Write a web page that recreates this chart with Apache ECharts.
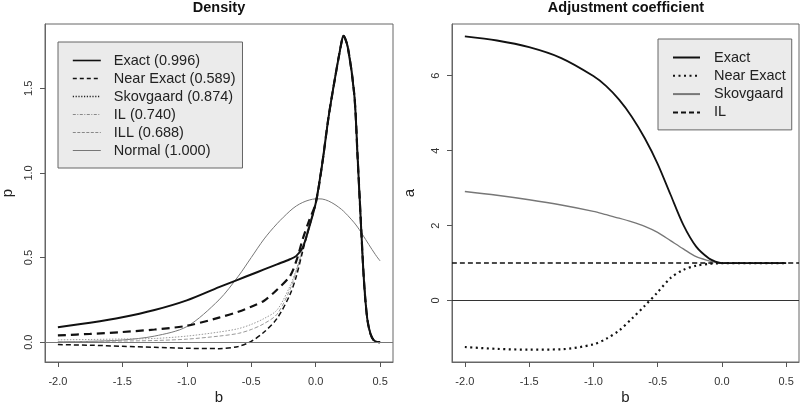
<!DOCTYPE html>
<html><head><meta charset="utf-8">
<script src="https://cdn.jsdelivr.net/npm/echarts@6/dist/echarts.min.js"></script>
<style>html,body{margin:0;padding:0;background:#fff}#c{width:800px;height:403px}</style>
</head><body><div id="c"></div>
<script>
// ---------- Left panel: Density ----------
const bL = [-2.0, -1.75, -1.5, -1.25, -1.0, -0.75, -0.6, -0.5, -0.4, -0.3, -0.2, -0.15, -0.1, -0.05, 0,
            0.05, 0.1, 0.15, 0.2, 0.215, 0.25, 0.3, 0.325, 0.35, 0.375, 0.4, 0.425, 0.45, 0.475, 0.5];
const peakTail = [1.05, 1.33, 1.56, 1.77, 1.81, 1.74, 1.46, 1.10, 0.72, 0.36, 0.14, 0.05, 0.012, 0.002, 0.0];
const pExact     = [0.089, 0.115, 0.147, 0.19, 0.247, 0.325, 0.37, 0.40, 0.43, 0.46, 0.49, 0.51, 0.56, 0.68, 0.82].concat(peakTail);
const pNearExact = [-0.014, -0.018, -0.024, -0.03, -0.036, -0.038, -0.025, 0.005, 0.06, 0.14, 0.28, 0.39, 0.54, 0.68, 0.82].concat(peakTail);
const pSkovgaard = [0.040, 0.049, 0.060, 0.075, 0.097, 0.145, 0.18, 0.21, 0.245, 0.31, 0.39, 0.48, 0.61, 0.72, 0.82].concat(peakTail);
const pIL        = [0.014, 0.016, 0.019, 0.022, 0.036, 0.06, 0.08, 0.105, 0.14, 0.19, 0.33, 0.43, 0.56, 0.70, 0.82].concat(peakTail);
const pILL       = [0.003, 0.005, 0.007, 0.010, 0.018, 0.036, 0.052, 0.075, 0.11, 0.165, 0.31, 0.42, 0.55, 0.70, 0.82].concat(peakTail);
const pNormal    = [0.002, 0.005, 0.013, 0.036, 0.092, 0.25, 0.39, 0.50, 0.61, 0.70, 0.775, 0.805, 0.826, 0.840, 0.847,
                    0.846, 0.834, 0.813, 0.785, 0.775, 0.748, 0.705, 0.68, 0.652, 0.622, 0.592, 0.562, 0.533, 0.505, 0.48];
const namesL = ['Exact (0.996)', 'Near Exact (0.589)', 'Skovgaard (0.874)', 'IL (0.740)', 'ILL (0.688)', 'Normal (1.000)'];

// ---------- Right panel: Adjustment coefficient ----------
const bR = [-2.0, -1.75, -1.5, -1.25, -1.0, -0.9, -0.8, -0.7, -0.6, -0.5, -0.4, -0.3, -0.2, -0.1, -0.05, 0, 0.25, 0.5];
const aExact     = [7.05, 6.94, 6.76, 6.47, 5.99, 5.72, 5.36, 4.9, 4.33, 3.65, 2.83, 2.02, 1.44, 1.12, 1.04, 1.0, 1.0, 1.0];
const aNearExact = [-1.24, -1.29, -1.31, -1.30, -1.17, -1.02, -0.80, -0.48, -0.14, 0.22, 0.6, 0.82, 0.93, 0.98, 0.99, 1.0, 1.0, 1.0];
const aSkovgaard = [2.91, 2.81, 2.69, 2.55, 2.38, 2.29, 2.2, 2.1, 1.98, 1.82, 1.6, 1.38, 1.17, 1.06, 1.02, 1.0, 1.0, 1.0];
const bIL = [-2.1, 0.6];
const aIL = [1.0, 1.0];
const namesR = ['Exact', 'Near Exact', 'Skovgaard', 'IL'];

// ---------- tick labels ----------
const ticksB = [-2.0, -1.5, -1.0, -0.5, 0.0, 0.5];
const ticksP = [0.0, 0.5, 1.0, 1.5];
const ticksA = [0, 2, 4, 6];

const FONT = '"Liberation Sans", Arial, Helvetica, sans-serif';
const pairs = (xs, ys) => xs.map((x, i) => [x, ys[i]]);

function xAx(gi) {
  return {
    type: 'value', gridIndex: gi, min: -2.1, max: 0.6,
    splitLine: {show: false}, axisLine: {show: true, onZero: false, lineStyle: {color: '#666', width: 1}},
    axisTick: {show: true, customValues: ticksB, length: 5, lineStyle: {color: '#555'}},
    axisLabel: {customValues: ticksB, formatter: v => v.toFixed(1), fontSize: 11, color: '#333', fontFamily: FONT, margin: 14},
    name: 'b', nameLocation: 'middle', nameGap: 28, nameMoveOverlap: false,
    nameTextStyle: {fontSize: 15, color: '#222', fontFamily: FONT}
  };
}
function yAx(gi, min, max, ticks, fmt, name, gap) {
  return {
    type: 'value', gridIndex: gi, min: min, max: max,
    splitLine: {show: false}, axisLine: {show: true, onZero: false, lineStyle: {color: '#666', width: 1}},
    axisTick: {show: true, customValues: ticks, length: 5, lineStyle: {color: '#555'}},
    axisLabel: {customValues: ticks, formatter: fmt, rotate: 90, fontSize: 11, color: '#333', fontFamily: FONT, margin: 11},
    name: name, nameLocation: 'middle', nameGap: gap, nameRotate: 90, nameMoveOverlap: false,
    nameTextStyle: {fontSize: 15, color: '#222', fontFamily: FONT}
  };
}
function line(name, xi, xs, ys, color, width, type, z) {
  return {
    name: name, type: 'line', xAxisIndex: xi, yAxisIndex: xi,
    data: pairs(xs, ys), symbol: 'none', smooth: 0.3,
    lineStyle: {color: color, width: width, type: type},
    itemStyle: {color: color}, z: z || 2, silent: true, animation: false
  };
}
const zeroLine = (xi, color) => ({
  type: 'line', xAxisIndex: xi, yAxisIndex: xi, data: [], silent: true, animation: false,
  markLine: {silent: true, symbol: 'none', label: {show: false}, animation: false,
    lineStyle: {color: color, width: 1, type: 'solid'}, data: [{yAxis: 0}]}
});
const legendCommon = {
  orient: 'vertical', itemHeight: 18, selectedMode: false,
  backgroundColor: '#ebebeb', borderColor: '#666', borderWidth: 1,
  itemStyle: {opacity: 0, color: 'rgba(0,0,0,0)', borderWidth: 0}
};
// legend key appearance (as drawn in the reference legend box)
const legendDataL = [
  {name: namesL[0], lineStyle: {color: '#111', width: 1.6, type: 'solid'}},
  {name: namesL[1], lineStyle: {color: '#111', width: 1.3, type: [4, 3]}},
  {name: namesL[2], lineStyle: {color: '#222', width: 1.3, type: [1.2, 1.6]}},
  {name: namesL[3], lineStyle: {color: '#888', width: 1, type: [3, 1.5, 1, 1.5]}},
  {name: namesL[4], lineStyle: {color: '#888', width: 1, type: [3, 1.5]}},
  {name: namesL[5], lineStyle: {color: '#777', width: 1, type: 'solid'}}
];

const chart = echarts.init(document.getElementById('c'), null, {renderer: 'canvas'});
chart.setOption({
  animation: false,
  textStyle: {fontFamily: FONT},
  title: [
    {text: 'Density', left: 219, top: 0, padding: 0, textAlign: 'center',
     textStyle: {fontSize: 14.5, fontWeight: 'bold', color: '#111', fontFamily: FONT}},
    {text: 'Adjustment coefficient', left: 626, top: 0, padding: 0, textAlign: 'center',
     textStyle: {fontSize: 14.5, fontWeight: 'bold', color: '#111', fontFamily: FONT}}
  ],
  grid: [
    {left: 45, top: 24, width: 348, height: 338, show: true, borderColor: '#666', borderWidth: 1,
     backgroundColor: 'transparent', outerBoundsMode: 'none', containLabel: false},
    {left: 452, top: 24, width: 347, height: 338, show: true, borderColor: '#666', borderWidth: 1,
     backgroundColor: 'transparent', outerBoundsMode: 'none', containLabel: false}
  ],
  xAxis: [xAx(0), xAx(1)],
  yAxis: [
    yAx(0, -0.117, 1.88, ticksP, v => v.toFixed(1), 'p', 30),
    yAx(1, -1.64, 7.38, ticksA, v => String(v), 'a', 35)
  ],
  legend: [
    Object.assign({}, legendCommon, {data: legendDataL, left: 58, top: 42, itemWidth: 28, itemGap: 3,
     padding: [11, 7, 10, 14],
     textStyle: {fontSize: 14.5, color: '#222', fontFamily: FONT, padding: [0, 0, 0, 8]}}),
    Object.assign({}, legendCommon, {data: namesR, left: 658, top: 39, itemWidth: 27, itemGap: 3.3,
     padding: [11, 6, 10, 14],
     textStyle: {fontSize: 14.5, color: '#222', fontFamily: FONT, padding: [0, 0, 0, 9]}})
  ],
  series: [
    zeroLine(0, '#777'),
    line(namesL[5], 0, bL, pNormal, '#777', 1, 'solid'),
    line(namesL[4], 0, bL, pILL, '#999', 1, [4, 2]),
    line(namesL[3], 0, bL, pIL, '#999', 1, [1.5, 1.5]),
    line(namesL[2], 0, bL, pSkovgaard, '#111', 2.2, [8, 5]),
    line(namesL[1], 0, bL, pNearExact, '#111', 1.5, [5, 3]),
    line(namesL[0], 0, bL, pExact, '#111', 2, 'solid', 3),

    zeroLine(1, '#333'),
    line(namesR[3], 1, bIL, aIL, '#111', 1.4, [5, 3]),
    line(namesR[2], 1, bR, aSkovgaard, '#777', 1.3, 'solid'),
    line(namesR[1], 1, bR, aNearExact, '#111', 2.2, [2, 3.5]),
    line(namesR[0], 1, bR, aExact, '#111', 1.8, 'solid', 3)
  ]
});
</script></body></html>
